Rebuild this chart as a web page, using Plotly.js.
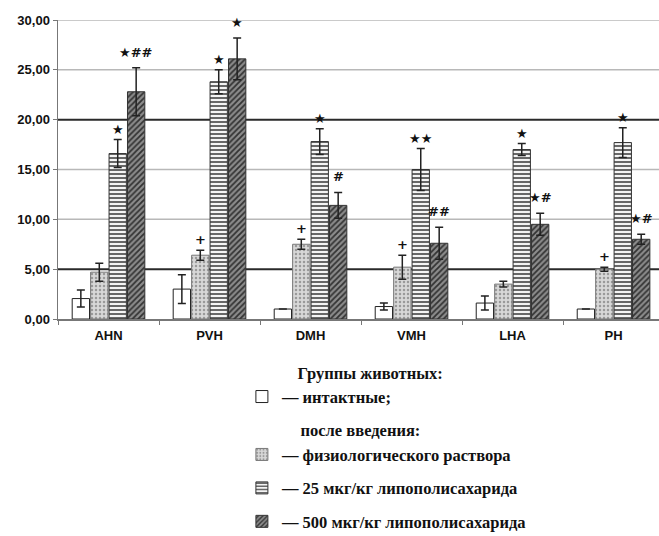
<!DOCTYPE html>
<html>
<head>
<meta charset="utf-8">
<script src="https://cdn.plot.ly/plotly-3.0.1.min.js"></script>
<style>html,body{margin:0;padding:0;background:#fff;}</style>
</head>
<body>
<div id="chart" style="width:659px;height:536px;"></div>
<script>
const categories = ['AHN', 'PVH', 'DMH', 'VMH', 'LHA', 'PH'];
const intact     = [2.05, 3.0, 1.0, 1.25, 1.6, 1.0];
const intactErr  = [0.85, 1.45, 0, 0.35, 0.7, 0];
const saline     = [4.7, 6.4, 7.5, 5.2, 3.5, 5.0];
const salineErr  = [0.9, 0.5, 0.5, 1.2, 0.3, 0.2];
const lps25      = [16.6, 23.8, 17.8, 15.0, 17.0, 17.7];
const lps25Err   = [1.4, 1.2, 1.3, 2.1, 0.6, 1.5];
const lps500     = [22.8, 26.1, 11.4, 7.6, 9.5, 8.0];
const lps500Err  = [2.4, 2.1, 1.3, 1.6, 1.1, 0.5];
const marksIntact = ['', '', '', '', '', ''];
const marksSaline = ['', '+', '+', '+', '', '+'];
const marks25     = ['★', '★', '★', '★★', '★', '★'];
const marks500    = ['★##', '★', '#', '##', '★#', '★#'];
const seriesNames = ['— интактные;', '— физиологического раствора', '— 25 мкг/кг липополисахарида', '— 500 мкг/кг липополисахарида'];
const legendTitle = 'Группы животных:';
const groupTitle = 'после введения:';
const gridValues = [10, 15, 25, 30];
const refLines = [5, 20];

const values = [intact, saline, lps25, lps500];
const errors = [intactErr, salineErr, lps25Err, lps500Err];
const marks = [marksIntact, marksSaline, marks25, marks500];

const styles = [
  {color: '#ffffff', line: {color: '#222', width: 1}},
  {color: '#d4d4d4', line: {color: '#777', width: 1}, pattern: {shape: '.', fgcolor: '#9a9a9a', bgcolor: '#d8d8d8', size: 4, solidity: 0.3}},
  {color: '#ffffff', line: {color: '#333', width: 1}, pattern: {shape: '-', fgcolor: '#444', bgcolor: '#f4f4f4', size: 4, solidity: 0.4}},
  {color: '#777', line: {color: '#333', width: 1}, pattern: {shape: '/', fgcolor: '#333', bgcolor: '#8c8c8c', size: 4, solidity: 0.45}}
];

const legendFont = {family: 'Liberation Serif', size: 16.5, color: '#111', weight: 'bold'};
const pad = '\u00a0'.repeat(13);

const traces = values.map((v, k) => {
  const t = {
    type: 'bar',
    x: categories,
    y: v,
    name: seriesNames[k],
    legendgroup: 'g' + k,
    marker: styles[k],
    error_y: {type: 'data', array: errors[k], visible: true, color: '#222', thickness: 1.5, width: 4},
    hoverinfo: 'skip'
  };
  if (k === 1) t.legendgrouptitle = {text: pad + groupTitle, font: legendFont};
  return t;
});

const bargap = 0.27;
const slot = (1 - bargap) / 4;
const annotations = [];
marks.forEach((arr, k) => {
  arr.forEach((m, i) => {
    if (!m) return;
    annotations.push({
      x: i + (k - 1.5) * slot,
      y: values[k][i] + errors[k][i],
      xref: 'x', yref: 'y',
      text: m,
      showarrow: false,
      yanchor: 'bottom',
      yshift: k === 3 ? 6 : 1,
      font: {family: 'DejaVu Sans', size: 13, color: '#111', weight: 'bold'}
    });
  });
});

const tickFont = {family: 'Liberation Sans', size: 13, color: '#111', weight: 'bold'};

const hLine = (v, color, width) => ({
  type: 'line', xref: 'paper', x0: 0, x1: 1, yref: 'y', y0: v, y1: v,
  line: {color: color, width: width}, layer: 'below'
});

const layout = {
  width: 659, height: 536,
  margin: {l: 58, r: 0, t: 20, b: 217, autoexpand: false},
  paper_bgcolor: '#ffffff', plot_bgcolor: '#ffffff',
  barmode: 'group', bargap: bargap, bargroupgap: 0.06,
  separators: ',.',
  showlegend: true,
  xaxis: {
    type: 'category', range: [-0.5, 5.45],
    showline: true, linecolor: '#777', linewidth: 1.5,
    ticks: 'outside', tickson: 'boundaries', ticklen: 4, tickcolor: '#777',
    tickfont: tickFont, showgrid: false, ticklabelstandoff: 4
  },
  yaxis: {
    range: [0, 30], dtick: 5, tickformat: '.2f',
    showline: true, linecolor: '#777', linewidth: 1.5,
    ticks: 'outside', ticklen: 4, tickcolor: '#777',
    showgrid: false, zeroline: false,
    tickfont: tickFont
  },
  shapes: gridValues.map(v => hLine(v, '#b8b8b8', 1.5)).concat(refLines.map(v => hLine(v, '#2a2a2a', 2))),
  annotations: annotations,
  legend: {
    x: 0.306, xanchor: 'left', y: -0.13, yanchor: 'top',
    traceorder: 'grouped', tracegroupgap: 9,
    font: legendFont,
    title: {text: pad + legendTitle, font: legendFont},
    bgcolor: 'rgba(0,0,0,0)'
  }
};

Plotly.newPlot('chart', traces, layout, {displayModeBar: false, staticPlot: true});
</script>
</body>
</html>
